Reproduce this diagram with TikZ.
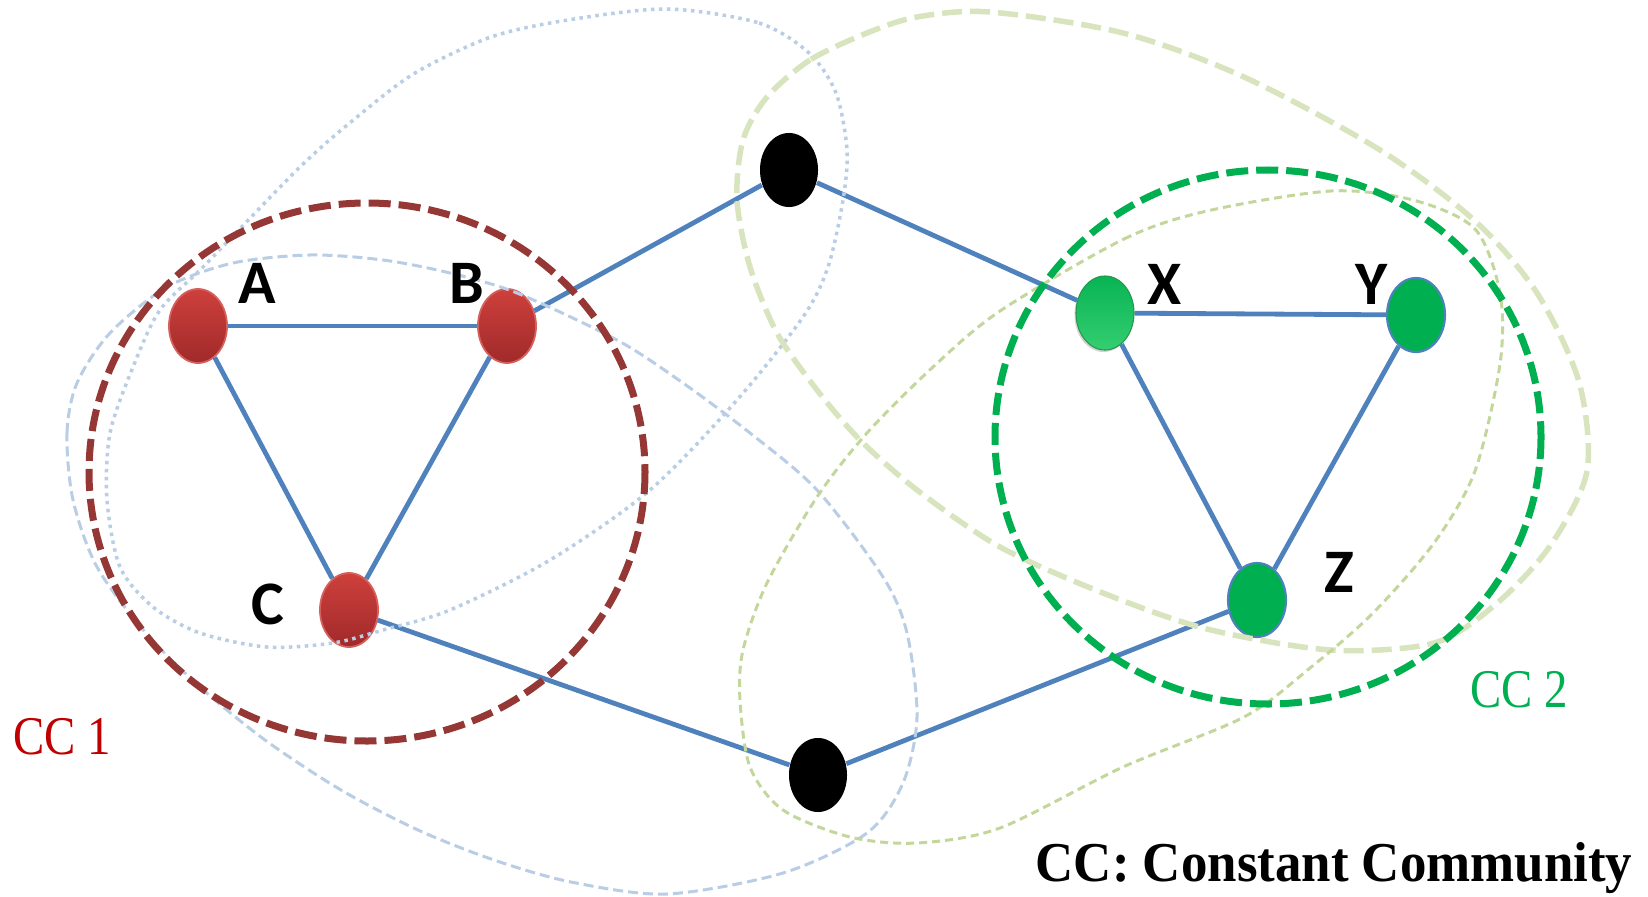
\documentclass[tikz,border=0pt]{standalone}
\usepackage{fontspec}
\setmainfont{Liberation Serif}
\newfontfamily\labelfont{Carlito}
\usetikzlibrary{shapes.geometric, shadows}

\definecolor{linkblue}{HTML}{4F81BD}
\definecolor{ccred}{HTML}{953735}
\definecolor{ccgreen}{HTML}{00B050}
\definecolor{paleblue}{HTML}{B9CDE5}
\definecolor{palegreen}{HTML}{D7E4BD}
\definecolor{sagegreen}{HTML}{C3D69B}
\definecolor{cctext}{HTML}{C00000}

\begin{document}
\begin{tikzpicture}[x=0.01cm, y=-0.01cm,
    vertex/.style={ellipse, minimum width=0.58cm, minimum height=0.74cm, inner sep=0pt},
    red node/.style={vertex, top color={rgb,255:red,206;green,64;blue,60}, bottom color={rgb,255:red,160;green,42;blue,42},
                     draw={rgb,255:red,214;green,96;blue,92}, line width=0.5pt},
    green node/.style={vertex, fill=ccgreen, draw=linkblue, line width=0.6pt},
    hub node/.style={vertex, fill=black},
    link/.style={draw=linkblue, line width=0.048cm},
    tag/.style={inner sep=0pt, font=\labelfont\bfseries\fontsize{17.6}{18}\selectfont},
    cc/.style={line width=0.07cm, dash pattern=on 0.22cm off 0.08cm},
    tagcc/.style={inner sep=0pt, font=\fontsize{15.5}{16}\selectfont}]

    \useasboundingbox (0,0) rectangle (1648,897);

    % vertices
    \node[red node] (A) at (198,326) {};
    \node[red node] (B) at (507,326) {};
    \node[red node] (C) at (349,610) {};
    \node[hub node] (top) at (789,170) {};
    \node[hub node] (bot) at (818,775) {};
    \node[vertex, top color={rgb,255:red,8;green,180;blue,84}, bottom color={rgb,255:red,52;green,206;blue,112},
          draw={rgb,255:red,40;green,150;blue,80}, line width=0.3pt,
          drop shadow={shadow xshift=-0.015cm, shadow yshift=-0.02cm, opacity=0.35}] (X) at (1105,313) {};
    \node[green node] (Y) at (1416,315) {};
    \node[green node] (Z) at (1257,600) {};

    \path[link]
        (A) edge (B)
        (A) edge (C)
        (B) edge (C)
        (B) edge (top)
        (top) edge (X)
        (C) edge (bot)
        (bot) edge (Z)
        (X) edge (Y)
        (X) edge (Z)
        (Y) edge (Z);

    % communities over time
    \draw[paleblue, line width=0.035cm, dash pattern=on 0.035cm off 0.045cm]
        plot[smooth cycle] coordinates {(667,9) (759,23) (809,53) (836,93) (847,150) (843,200)
        (828,267) (803,317) (737,400) (650,490) (550,560) (450,610) (383,630) (333,643)
        (267,647) (200,633) (153,607) (120,567) (107,500) (110,433) (133,367) (160,310)
        (205,265) (300,167) (357,117) (415,73) (491,37) (568,20)};
    \draw[paleblue, line width=0.03cm, dash pattern=on 0.1cm off 0.05cm]
        plot[smooth cycle] coordinates {(73,500) (67,433) (77,383) (110,333) (167,287) (233,263)
        (310,255) (383,260) (450,273) (517,293) (617,340) (683,383) (750,433) (817,490)
        (883,577) (907,633) (917,717) (903,783) (867,833) (783,873) (667,894) (571,882)
        (494,860) (418,830) (341,790) (265,740) (200,687) (145,632) (97,567)};
    \draw[palegreen, line width=0.055cm, dash pattern=on 0.2cm off 0.08cm]
        plot[smooth cycle] coordinates {(867,33) (810,60) (767,97) (743,140) (737,200) (750,267)
        (777,333) (817,390) (860,440) (917,490) (1000,547) (1103,593) (1207,629) (1331,650)
        (1434,643) (1496,604) (1550,546) (1587,471) (1579,382) (1537,293) (1475,221)
        (1380,150) (1244,77) (1123,33) (990,12) (917,17)};
    \draw[sagegreen, line width=0.03cm, dash pattern=on 0.08cm off 0.05cm]
        plot[smooth cycle] coordinates {(1000,311) (1124,239) (1207,211) (1331,191) (1413,200)
        (1475,229) (1500,293) (1500,364) (1475,471) (1434,543) (1372,614) (1310,668)
        (1244,717) (1123,767) (1000,828) (917,843) (850,837) (783,810) (750,767) (740,700)
        (743,650) (767,583) (817,497) (867,433) (933,367)};

    % constant communities
    \draw[cc, ccred] (367,472) ellipse [x radius=278, y radius=269];
    \draw[cc, ccgreen] (1268,437) ellipse [x radius=273, y radius=267];

    \node[tag] (tA) at (257,283) {A};
    \node[tag] (tB) at (467,283) {B};
    \node[tag] (tC) at (268,604) {C};
    \node[tag] (tX) at (1165,284) {X};
    \node[tag] (tY) at (1372,284) {Y};
    \node[tag] (tZ) at (1339,572) {Z};

    \node[tagcc, cctext] (cc1) at (62,737) {\scalebox{0.86}[1]{CC 1}};
    \node[tagcc, ccgreen] (cc2) at (1519,690) {\scalebox{0.86}[1]{CC 2}};
    \node[inner sep=0pt, font=\bfseries\fontsize{16}{17}\selectfont] (key) at (1334,868)
        {\scalebox{0.94}[1]{CC: Constant Community}};
\end{tikzpicture}
\end{document}
